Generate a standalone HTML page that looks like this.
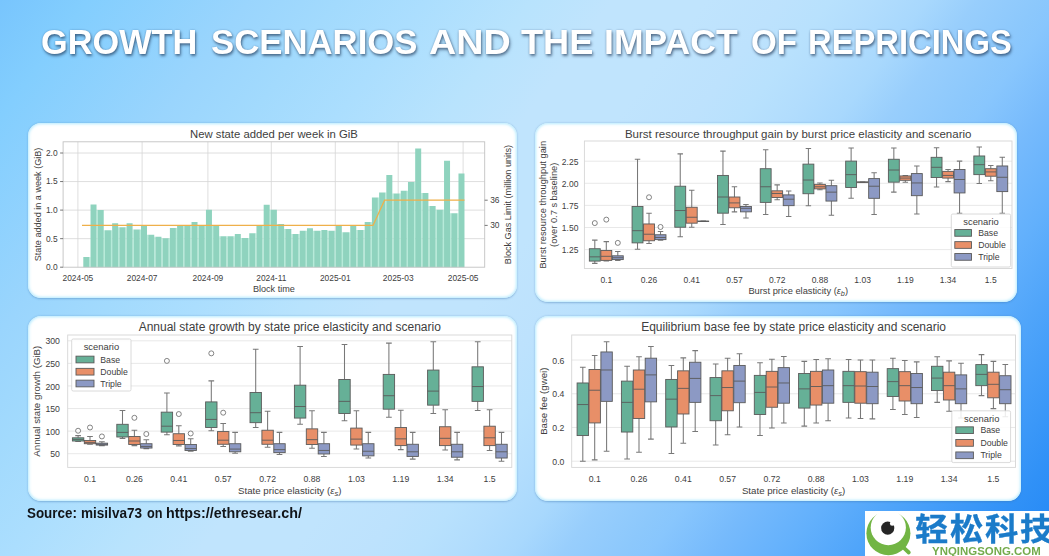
<!DOCTYPE html>
<html lang="en"><head><meta charset="utf-8">
<title>Growth scenarios and the impact of repricings</title>
<style>
html,body{margin:0;padding:0}
body{font-family:"Liberation Sans", sans-serif;background:#a8d6fd}
#stage{position:relative;width:1049px;height:556px;overflow:hidden;background:linear-gradient(126.87deg,rgb(120,197,253) 0px,rgb(131,206,254) 70px,rgb(154,213,253) 200px,rgb(162,218,253) 270px,rgb(171,222,254) 340px,rgb(184,227,253) 425px,rgb(192,228,253) 490px,rgb(192,228,253) 565px,rgb(189,226,253) 625px,rgb(184,225,253) 665px,rgb(178,221,253) 700px,rgb(168,216,253) 742px,rgb(152,206,252) 782px,rgb(140,200,252) 832px,rgb(136,198,253) 851px,rgb(118,186,252) 902px,rgb(98,176,252) 963px,rgb(80,165,250) 1014px,rgb(48,145,247) 1115px,rgb(35,135,245) 1173px)}
.panel{position:absolute;background:#fff;box-sizing:border-box;border-radius:13px;box-shadow:inset 0 0 2.5px 1.2px rgba(185,236,255,0.95), 0 0.8px 2px rgba(60,115,175,0.42)}
h1{position:absolute;margin:0;left:0;top:24px;width:1049px;height:35px;white-space:nowrap;font-size:35px;line-height:1;font-weight:bold;color:#fff;text-shadow:1px 2px 3px rgba(20,40,70,0.6), 0 0 2px rgba(30,60,100,0.3)}
h1 span{position:absolute;top:0;transform-origin:0 0;display:block}
.src{position:absolute;margin:0;left:0;top:506.0px;width:400px;height:14.5px;white-space:nowrap;font-size:14.5px;line-height:1;font-weight:bold;color:#111418}
.src span{position:absolute;top:0;transform-origin:0 0;display:block}
svg{position:absolute;left:0;top:0}
svg text{font-family:"Liberation Sans", sans-serif}
.logo{position:absolute;left:864.6px;top:510.7px;width:184.4px;height:45.3px;background:#fff}
.logo .cn{position:absolute;left:50.00px;top:3.10px;margin:0;white-space:nowrap;font-family:"Liberation Sans","Noto Sans CJK SC",sans-serif;font-weight:700;font-size:33px;line-height:1;color:#1b7bc9;-webkit-text-stroke:0.35px #1b7bc9;letter-spacing:1.65px;transform-origin:0 0;transform:scale(1.01,0.94)}
.logo .url{position:absolute;left:67.30px;top:35.00px;margin:0;white-space:nowrap;font-weight:bold;font-size:11px;line-height:1;color:#74ab4c;letter-spacing:0px;transform-origin:0 0;transform:scaleX(1.04)}
</style></head><body><div id="stage">
<h1><span style="left:41.22px;transform:scaleX(0.9805)">GROWTH</span> <span style="left:211.31px;transform:scaleX(0.9925)">SCENARIOS</span> <span style="left:428.60px;transform:scaleX(1.0771)">AND</span> <span style="left:520.70px;transform:scaleX(1.0341)">THE</span> <span style="left:604.27px;transform:scaleX(1.0156)">IMPACT</span> <span style="left:751.15px;transform:scaleX(0.9466)">OF</span> <span style="left:808.13px;transform:scaleX(0.9358)">REPRICINGS</span></h1>
<div class="panel" style="left:28px;top:123px;width:489px;height:175.2px"></div>
<div class="panel" style="left:535.2px;top:123px;width:482.3px;height:178.5px"></div>
<div class="panel" style="left:28px;top:316px;width:489px;height:185px"></div>
<div class="panel" style="left:535.2px;top:316px;width:486.1px;height:185px"></div>
<svg width="1049" height="556" viewBox="0 0 1049 556">
<g>
<path d="M63.1 238.65H484.7" stroke="#d6d6d6" stroke-width="0.8"/><path d="M63.1 210.1H484.7" stroke="#d6d6d6" stroke-width="0.8"/><path d="M63.1 181.55H484.7" stroke="#d6d6d6" stroke-width="0.8"/><path d="M63.1 153H484.7" stroke="#d6d6d6" stroke-width="0.8"/>
<path d="M77.9 141.8V267.2" stroke="#d6d6d6" stroke-width="0.8"/><path d="M142.1 141.8V267.2" stroke="#d6d6d6" stroke-width="0.8"/><path d="M207.9 141.8V267.2" stroke="#d6d6d6" stroke-width="0.8"/><path d="M271.3 141.8V267.2" stroke="#d6d6d6" stroke-width="0.8"/><path d="M335.3 141.8V267.2" stroke="#d6d6d6" stroke-width="0.8"/><path d="M398.2 141.8V267.2" stroke="#d6d6d6" stroke-width="0.8"/><path d="M463.1 141.8V267.2" stroke="#d6d6d6" stroke-width="0.8"/>
<path d="M89.3 267.2V256.92h1.21V267.2zM96.52 267.2V210.1h1.21V267.2zM103.73 267.2V230.37h1.21V267.2zM110.94 267.2V230.37h1.21V267.2zM118.16 267.2V227.23h1.21V267.2zM125.38 267.2V227.23h1.21V267.2zM132.59 267.2V229.51h1.21V267.2zM139.81 267.2V229.51h1.21V267.2zM147.02 267.2V234.65h1.21V267.2zM154.24 267.2V236.65h1.21V267.2zM161.45 267.2V238.36h1.21V267.2zM168.66 267.2V238.36h1.21V267.2zM175.88 267.2V228.09h1.21V267.2zM183.09 267.2V226.09h1.21V267.2zM190.31 267.2V226.09h1.21V267.2zM197.52 267.2V226.09h1.21V267.2zM204.74 267.2V226.09h1.21V267.2zM211.95 267.2V226.09h1.21V267.2zM219.17 267.2V236.37h1.21V267.2zM226.38 267.2V236.37h1.21V267.2zM233.6 267.2V236.37h1.21V267.2zM240.81 267.2V238.08h1.21V267.2zM248.03 267.2V238.08h1.21V267.2zM255.25 267.2V233.23h1.21V267.2zM262.46 267.2V226.09h1.21V267.2zM269.68 267.2V209.81h1.21V267.2zM276.89 267.2V224.09h1.21V267.2zM284.11 267.2V228.94h1.21V267.2zM291.32 267.2V234.08h1.21V267.2zM298.53 267.2V234.08h1.21V267.2zM305.75 267.2V230.66h1.21V267.2zM312.96 267.2V230.66h1.21V267.2zM320.18 267.2V230.66h1.21V267.2zM327.39 267.2V230.66h1.21V267.2zM334.61 267.2V230.66h1.21V267.2zM341.82 267.2V232.37h1.21V267.2zM349.04 267.2V232.37h1.21V267.2zM356.25 267.2V230.08h1.21V267.2zM363.47 267.2V230.08h1.21V267.2zM370.69 267.2V222.09h1.21V267.2zM377.9 267.2V197.54h1.21V267.2zM385.12 267.2V192.4h1.21V267.2zM392.33 267.2V193.54h1.21V267.2zM399.55 267.2V193.54h1.21V267.2zM406.76 267.2V190.69h1.21V267.2zM413.98 267.2V182.12h1.21V267.2zM421.19 267.2V192.97h1.21V267.2zM428.41 267.2V206.1h1.21V267.2zM435.62 267.2V209.81h1.21V267.2zM442.83 267.2V209.81h1.21V267.2zM450.05 267.2V213.24h1.21V267.2zM457.26 267.2V213.24h1.21V267.2z" fill="#b6ebd9"/>
<path d="M83.3 267.2V256.92h6V267.2zM90.52 267.2V204.39h6V267.2zM97.73 267.2V210.1h6V267.2zM104.94 267.2V230.37h6V267.2zM112.16 267.2V223.23h6V267.2zM119.38 267.2V227.23h6V267.2zM126.59 267.2V223.23h6V267.2zM133.81 267.2V229.51h6V267.2zM141.02 267.2V225.52h6V267.2zM148.24 267.2V234.65h6V267.2zM155.45 267.2V236.65h6V267.2zM162.66 267.2V238.36h6V267.2zM169.88 267.2V228.09h6V267.2zM177.09 267.2V226.09h6V267.2zM184.31 267.2V226.09h6V267.2zM191.52 267.2V222.09h6V267.2zM198.74 267.2V226.09h6V267.2zM205.95 267.2V209.81h6V267.2zM213.17 267.2V226.09h6V267.2zM220.38 267.2V236.37h6V267.2zM227.6 267.2V236.37h6V267.2zM234.81 267.2V234.08h6V267.2zM242.03 267.2V238.08h6V267.2zM249.25 267.2V233.23h6V267.2zM256.46 267.2V226.09h6V267.2zM263.68 267.2V204.68h6V267.2zM270.89 267.2V209.81h6V267.2zM278.11 267.2V224.09h6V267.2zM285.32 267.2V228.94h6V267.2zM292.53 267.2V234.08h6V267.2zM299.75 267.2V230.66h6V267.2zM306.96 267.2V228.37h6V267.2zM314.18 267.2V230.66h6V267.2zM321.39 267.2V230.08h6V267.2zM328.61 267.2V230.66h6V267.2zM335.82 267.2V225.52h6V267.2zM343.04 267.2V232.37h6V267.2zM350.25 267.2V225.52h6V267.2zM357.47 267.2V230.08h6V267.2zM364.69 267.2V222.09h6V267.2zM371.9 267.2V197.54h6V267.2zM379.12 267.2V192.4h6V267.2zM386.33 267.2V174.98h6V267.2zM393.55 267.2V193.54h6V267.2zM400.76 267.2V190.69h6V267.2zM407.98 267.2V182.12h6V267.2zM415.19 267.2V148.43h6V267.2zM422.41 267.2V192.97h6V267.2zM429.62 267.2V206.1h6V267.2zM436.83 267.2V209.81h6V267.2zM444.05 267.2V160.71h6V267.2zM451.26 267.2V213.24h6V267.2zM458.48 267.2V173.56h6V267.2z" fill="#8fd3be"/>
<path d="M82 225.4H373L384.6 200.2H464.5" fill="none" stroke="#efb04a" stroke-width="1.3"/>
<rect x="63.1" y="141.8" width="421.6" height="125.4" fill="none" stroke="#c2c2c2" stroke-width="0.9"/>
<path d="M60.1 267.2H63.1" stroke="#555" stroke-width="0.8"/>
<text x="57.6" y="270.14" font-size="8.4" text-anchor="end" fill="#404040" font-weight="normal">0.0</text>
<path d="M60.1 238.65H63.1" stroke="#555" stroke-width="0.8"/>
<text x="57.6" y="241.59" font-size="8.4" text-anchor="end" fill="#404040" font-weight="normal">0.5</text>
<path d="M60.1 210.1H63.1" stroke="#555" stroke-width="0.8"/>
<text x="57.6" y="213.04" font-size="8.4" text-anchor="end" fill="#404040" font-weight="normal">1.0</text>
<path d="M60.1 181.55H63.1" stroke="#555" stroke-width="0.8"/>
<text x="57.6" y="184.49" font-size="8.4" text-anchor="end" fill="#404040" font-weight="normal">1.5</text>
<path d="M60.1 153H63.1" stroke="#555" stroke-width="0.8"/>
<text x="57.6" y="155.94" font-size="8.4" text-anchor="end" fill="#404040" font-weight="normal">2.0</text>
<path d="M484.7 200.2H487.7" stroke="#555" stroke-width="0.8"/>
<text x="490.2" y="203.14" font-size="8.4" text-anchor="start" fill="#404040" font-weight="normal">36</text>
<path d="M484.7 225.4H487.7" stroke="#555" stroke-width="0.8"/>
<text x="490.2" y="228.34" font-size="8.4" text-anchor="start" fill="#404040" font-weight="normal">30</text>
<text x="77.9" y="280.74" font-size="8.4" text-anchor="middle" fill="#404040" font-weight="normal">2024-05</text>
<text x="142.1" y="280.74" font-size="8.4" text-anchor="middle" fill="#404040" font-weight="normal">2024-07</text>
<text x="207.9" y="280.74" font-size="8.4" text-anchor="middle" fill="#404040" font-weight="normal">2024-09</text>
<text x="271.3" y="280.74" font-size="8.4" text-anchor="middle" fill="#404040" font-weight="normal">2024-11</text>
<text x="335.3" y="280.74" font-size="8.4" text-anchor="middle" fill="#404040" font-weight="normal">2025-01</text>
<text x="398.2" y="280.74" font-size="8.4" text-anchor="middle" fill="#404040" font-weight="normal">2025-03</text>
<text x="463.1" y="280.74" font-size="8.4" text-anchor="middle" fill="#404040" font-weight="normal">2025-05</text>
<text x="273.9" y="291.79" font-size="9.1" text-anchor="middle" fill="#404040" font-weight="normal">Block time</text>
<text x="41.19" y="204.5" font-size="9.1" text-anchor="middle" fill="#404040" font-weight="normal" transform="rotate(-90 41.19 204.5)">State added in a week (GiB)</text>
<text x="511.19" y="204.5" font-size="9.1" text-anchor="middle" fill="#404040" font-weight="normal" transform="rotate(-90 511.19 204.5)">Block Gas Limit (million units)</text>
<text x="273.9" y="137.56" font-size="11.3" text-anchor="middle" fill="#404040" font-weight="normal">New state added per week in GiB</text>
</g>
<g>
<path d="M584.4 249.6H1012" stroke="#e2e2e2" stroke-width="0.8"/><path d="M584.4 227.5H1012" stroke="#e2e2e2" stroke-width="0.8"/><path d="M584.4 205.4H1012" stroke="#e2e2e2" stroke-width="0.8"/><path d="M584.4 183.3H1012" stroke="#e2e2e2" stroke-width="0.8"/><path d="M584.4 161.2H1012" stroke="#e2e2e2" stroke-width="0.8"/>
<path d="M594.8 240.14V248.72M594.8 261.09V263.39M592.07 240.14H597.52M592.07 263.39H597.52" stroke="#787878" stroke-width="1.05" fill="none"/><rect x="589.35" y="248.72" width="10.9" height="12.38" fill="#66b097" stroke="#5a5a5a" stroke-width="0.9"/><path d="M589.35 256.85H600.25" stroke="#5a5a5a" stroke-width="0.9"/><circle cx="594.8" cy="223.08" r="2.5" fill="#fff" fill-opacity="0.6" stroke="#666" stroke-width="0.8"/>
<path d="M606.3 241.64V250.48M606.3 260.38V261.09M603.57 241.64H609.02M603.57 261.09H609.02" stroke="#787878" stroke-width="1.05" fill="none"/><rect x="600.85" y="250.48" width="10.9" height="9.9" fill="#e88f68" stroke="#5a5a5a" stroke-width="0.9"/><path d="M600.85 256.32H611.75" stroke="#5a5a5a" stroke-width="0.9"/><circle cx="606.3" cy="219.63" r="2.5" fill="#fff" fill-opacity="0.6" stroke="#666" stroke-width="0.8"/>
<path d="M617.8 251.46V255.79M617.8 259.59V260.38M615.07 251.46H620.52M615.07 260.38H620.52" stroke="#787878" stroke-width="1.05" fill="none"/><rect x="612.35" y="255.79" width="10.9" height="3.8" fill="#8c99c4" stroke="#5a5a5a" stroke-width="0.9"/><path d="M612.35 257.73H623.25" stroke="#5a5a5a" stroke-width="0.9"/><circle cx="617.8" cy="242.88" r="2.5" fill="#fff" fill-opacity="0.6" stroke="#666" stroke-width="0.8"/>
<path d="M637.52 159.26V206.46M637.52 242.88V249.33M634.79 159.26H640.25M634.79 249.33H640.25" stroke="#787878" stroke-width="1.05" fill="none"/><rect x="632.07" y="206.46" width="10.9" height="36.42" fill="#66b097" stroke="#5a5a5a" stroke-width="0.9"/><path d="M632.07 230.68H642.97" stroke="#5a5a5a" stroke-width="0.9"/>
<path d="M649.02 213.18V223.96M649.02 240.76V243.41M646.29 213.18H651.75M646.29 243.41H651.75" stroke="#787878" stroke-width="1.05" fill="none"/><rect x="643.57" y="223.96" width="10.9" height="16.8" fill="#e88f68" stroke="#5a5a5a" stroke-width="0.9"/><path d="M643.57 234.22H654.47" stroke="#5a5a5a" stroke-width="0.9"/><circle cx="649.02" cy="197.27" r="2.5" fill="#fff" fill-opacity="0.6" stroke="#666" stroke-width="0.8"/>
<path d="M660.52 231.57V234.75M660.52 239.61V240.14M657.79 231.57H663.25M657.79 240.14H663.25" stroke="#787878" stroke-width="1.05" fill="none"/><rect x="655.07" y="234.75" width="10.9" height="4.86" fill="#8c99c4" stroke="#5a5a5a" stroke-width="0.9"/><path d="M655.07 237.49H665.97" stroke="#5a5a5a" stroke-width="0.9"/><circle cx="660.52" cy="226.97" r="2.5" fill="#fff" fill-opacity="0.6" stroke="#666" stroke-width="0.8"/>
<path d="M680.24 153.86V186.22M680.24 227.23V236.69M677.51 153.86H682.97M677.51 236.69H682.97" stroke="#787878" stroke-width="1.05" fill="none"/><rect x="674.79" y="186.22" width="10.9" height="41.02" fill="#66b097" stroke="#5a5a5a" stroke-width="0.9"/><path d="M674.79 210.53H685.69" stroke="#5a5a5a" stroke-width="0.9"/>
<path d="M691.74 190.28V207.26M691.74 223.17V227.23M689.01 190.28H694.47M689.01 227.23H694.47" stroke="#787878" stroke-width="1.05" fill="none"/><rect x="686.29" y="207.26" width="10.9" height="15.91" fill="#e88f68" stroke="#5a5a5a" stroke-width="0.9"/><path d="M686.29 217.25H697.19" stroke="#5a5a5a" stroke-width="0.9"/>
<path d="M703.24 221.14V221.14M703.24 221.49V221.49M700.51 221.14H705.97M700.51 221.49H705.97" stroke="#787878" stroke-width="1.05" fill="none"/><rect x="697.79" y="221.14" width="10.9" height="0.35" fill="#8c99c4" stroke="#5a5a5a" stroke-width="0.9"/><path d="M697.79 221.31H708.69" stroke="#5a5a5a" stroke-width="0.9"/>
<path d="M722.96 151.12V175.43M722.96 213.18V224.49M720.23 151.12H725.68M720.23 224.49H725.68" stroke="#787878" stroke-width="1.05" fill="none"/><rect x="717.51" y="175.43" width="10.9" height="37.75" fill="#66b097" stroke="#5a5a5a" stroke-width="0.9"/><path d="M717.51 197H728.41" stroke="#5a5a5a" stroke-width="0.9"/>
<path d="M734.46 186.75V197M734.46 207.79V211.85M731.73 186.75H737.18M731.73 211.85H737.18" stroke="#787878" stroke-width="1.05" fill="none"/><rect x="729.01" y="197" width="10.9" height="10.78" fill="#e88f68" stroke="#5a5a5a" stroke-width="0.9"/><path d="M729.01 202.92H739.91" stroke="#5a5a5a" stroke-width="0.9"/>
<path d="M745.96 204.52V206.46M745.96 211.85V218.04M743.23 204.52H748.68M743.23 218.04H748.68" stroke="#787878" stroke-width="1.05" fill="none"/><rect x="740.51" y="206.46" width="10.9" height="5.39" fill="#8c99c4" stroke="#5a5a5a" stroke-width="0.9"/><path d="M740.51 208.32H751.41" stroke="#5a5a5a" stroke-width="0.9"/>
<path d="M765.68 149.8V168.71M765.68 202.39V214.51M762.95 149.8H768.4M762.95 214.51H768.4" stroke="#787878" stroke-width="1.05" fill="none"/><rect x="760.23" y="168.71" width="10.9" height="33.68" fill="#66b097" stroke="#5a5a5a" stroke-width="0.9"/><path d="M760.23 186.75H771.13" stroke="#5a5a5a" stroke-width="0.9"/>
<path d="M777.18 184.89V190.81M777.18 197.53V199.65M774.45 184.89H779.9M774.45 199.65H779.9" stroke="#787878" stroke-width="1.05" fill="none"/><rect x="771.73" y="190.81" width="10.9" height="6.72" fill="#e88f68" stroke="#5a5a5a" stroke-width="0.9"/><path d="M771.73 193.47H782.63" stroke="#5a5a5a" stroke-width="0.9"/>
<path d="M788.68 191.08V194.88M788.68 205.67V216.45M785.95 191.08H791.4M785.95 216.45H791.4" stroke="#787878" stroke-width="1.05" fill="none"/><rect x="783.23" y="194.88" width="10.9" height="10.78" fill="#8c99c4" stroke="#5a5a5a" stroke-width="0.9"/><path d="M783.23 199.21H794.13" stroke="#5a5a5a" stroke-width="0.9"/>
<path d="M808.4 148.47V164.12M808.4 193.73V205.67M805.67 148.47H811.12M805.67 205.67H811.12" stroke="#787878" stroke-width="1.05" fill="none"/><rect x="802.95" y="164.12" width="10.9" height="29.61" fill="#66b097" stroke="#5a5a5a" stroke-width="0.9"/><path d="M802.95 180.03H813.85" stroke="#5a5a5a" stroke-width="0.9"/>
<path d="M819.9 182.95V184.36M819.9 188.87V189.75M817.17 182.95H822.62M817.17 189.75H822.62" stroke="#787878" stroke-width="1.05" fill="none"/><rect x="814.45" y="184.36" width="10.9" height="4.51" fill="#e88f68" stroke="#5a5a5a" stroke-width="0.9"/><path d="M814.45 186.75H825.35" stroke="#5a5a5a" stroke-width="0.9"/>
<path d="M831.4 180.29V185.69M831.4 201.07V215.3M828.67 180.29H834.12M828.67 215.3H834.12" stroke="#787878" stroke-width="1.05" fill="none"/><rect x="825.95" y="185.69" width="10.9" height="15.38" fill="#8c99c4" stroke="#5a5a5a" stroke-width="0.9"/><path d="M825.95 192.14H836.85" stroke="#5a5a5a" stroke-width="0.9"/>
<path d="M851.12 147.94V161.11M851.12 187.54V198.33M848.39 147.94H853.84M848.39 198.33H853.84" stroke="#787878" stroke-width="1.05" fill="none"/><rect x="845.67" y="161.11" width="10.9" height="26.43" fill="#66b097" stroke="#5a5a5a" stroke-width="0.9"/><path d="M845.67 174.64H856.57" stroke="#5a5a5a" stroke-width="0.9"/>
<path d="M862.62 181.97V181.97M862.62 182.33V182.33M859.89 181.97H865.34M859.89 182.33H865.34" stroke="#787878" stroke-width="1.05" fill="none"/><rect x="857.17" y="181.97" width="10.9" height="0.35" fill="#e88f68" stroke="#5a5a5a" stroke-width="0.9"/><path d="M857.17 182.15H868.07" stroke="#5a5a5a" stroke-width="0.9"/>
<path d="M874.12 172.69V178.61M874.12 198.33V214.51M871.39 172.69H876.84M871.39 214.51H876.84" stroke="#787878" stroke-width="1.05" fill="none"/><rect x="868.67" y="178.61" width="10.9" height="19.71" fill="#8c99c4" stroke="#5a5a5a" stroke-width="0.9"/><path d="M868.67 186.22H879.57" stroke="#5a5a5a" stroke-width="0.9"/>
<path d="M893.84 147.94V159.26M893.84 182.15V192.14M891.11 147.94H896.56M891.11 192.14H896.56" stroke="#787878" stroke-width="1.05" fill="none"/><rect x="888.39" y="159.26" width="10.9" height="22.9" fill="#66b097" stroke="#5a5a5a" stroke-width="0.9"/><path d="M888.39 170.04H899.29" stroke="#5a5a5a" stroke-width="0.9"/>
<path d="M905.34 175.43V175.96M905.34 180.29V182.15M902.61 175.43H908.06M902.61 182.15H908.06" stroke="#787878" stroke-width="1.05" fill="none"/><rect x="899.89" y="175.96" width="10.9" height="4.33" fill="#e88f68" stroke="#5a5a5a" stroke-width="0.9"/><path d="M899.89 178.08H910.79" stroke="#5a5a5a" stroke-width="0.9"/>
<path d="M916.84 165.97V173.58M916.84 195.68V213.97M914.11 165.97H919.56M914.11 213.97H919.56" stroke="#787878" stroke-width="1.05" fill="none"/><rect x="911.39" y="173.58" width="10.9" height="22.1" fill="#8c99c4" stroke="#5a5a5a" stroke-width="0.9"/><path d="M911.39 182.95H922.29" stroke="#5a5a5a" stroke-width="0.9"/>
<path d="M936.56 147.67V157.31M936.56 177.55V187.01M933.83 147.67H939.28M933.83 187.01H939.28" stroke="#787878" stroke-width="1.05" fill="none"/><rect x="931.11" y="157.31" width="10.9" height="20.24" fill="#66b097" stroke="#5a5a5a" stroke-width="0.9"/><path d="M931.11 167.3H942.01" stroke="#5a5a5a" stroke-width="0.9"/>
<path d="M948.06 169.51V171.37M948.06 178.08V181.62M945.33 169.51H950.78M945.33 181.62H950.78" stroke="#787878" stroke-width="1.05" fill="none"/><rect x="942.61" y="171.37" width="10.9" height="6.72" fill="#e88f68" stroke="#5a5a5a" stroke-width="0.9"/><path d="M942.61 175.43H953.51" stroke="#5a5a5a" stroke-width="0.9"/>
<path d="M959.56 161.11V169.51M959.56 192.94V213.18M956.83 161.11H962.28M956.83 213.18H962.28" stroke="#787878" stroke-width="1.05" fill="none"/><rect x="954.11" y="169.51" width="10.9" height="23.43" fill="#8c99c4" stroke="#5a5a5a" stroke-width="0.9"/><path d="M954.11 179.5H965.01" stroke="#5a5a5a" stroke-width="0.9"/>
<path d="M979.28 147.06V155.98M979.28 174.64V183.48M976.55 147.06H982M976.55 183.48H982" stroke="#787878" stroke-width="1.05" fill="none"/><rect x="973.83" y="155.98" width="10.9" height="18.65" fill="#66b097" stroke="#5a5a5a" stroke-width="0.9"/><path d="M973.83 164.65H984.73" stroke="#5a5a5a" stroke-width="0.9"/>
<path d="M990.78 165.44V168.71M990.78 176.23V180.82M988.05 165.44H993.5M988.05 180.82H993.5" stroke="#787878" stroke-width="1.05" fill="none"/><rect x="985.33" y="168.71" width="10.9" height="7.51" fill="#e88f68" stroke="#5a5a5a" stroke-width="0.9"/><path d="M985.33 171.9H996.23" stroke="#5a5a5a" stroke-width="0.9"/>
<path d="M1002.28 157.31V165.97M1002.28 191.61V213.18M999.55 157.31H1005M999.55 213.18H1005" stroke="#787878" stroke-width="1.05" fill="none"/><rect x="996.83" y="165.97" width="10.9" height="25.64" fill="#8c99c4" stroke="#5a5a5a" stroke-width="0.9"/><path d="M996.83 177.29H1007.73" stroke="#5a5a5a" stroke-width="0.9"/>
<rect x="584.4" y="141" width="427.6" height="127.5" fill="none" stroke="#d6d6d6" stroke-width="0.9"/>
<text x="578.4" y="253.07" font-size="8.5" text-anchor="end" fill="#404040" font-weight="normal">1.25</text>
<text x="578.4" y="230.97" font-size="8.5" text-anchor="end" fill="#404040" font-weight="normal">1.50</text>
<text x="578.4" y="208.87" font-size="8.5" text-anchor="end" fill="#404040" font-weight="normal">1.75</text>
<text x="578.4" y="186.77" font-size="8.5" text-anchor="end" fill="#404040" font-weight="normal">2.00</text>
<text x="578.4" y="164.67" font-size="8.5" text-anchor="end" fill="#404040" font-weight="normal">2.25</text>
<text x="606.3" y="282.68" font-size="8.5" text-anchor="middle" fill="#404040" font-weight="normal">0.1</text>
<text x="649.02" y="282.68" font-size="8.5" text-anchor="middle" fill="#404040" font-weight="normal">0.26</text>
<text x="691.74" y="282.68" font-size="8.5" text-anchor="middle" fill="#404040" font-weight="normal">0.41</text>
<text x="734.46" y="282.68" font-size="8.5" text-anchor="middle" fill="#404040" font-weight="normal">0.57</text>
<text x="777.18" y="282.68" font-size="8.5" text-anchor="middle" fill="#404040" font-weight="normal">0.72</text>
<text x="819.9" y="282.68" font-size="8.5" text-anchor="middle" fill="#404040" font-weight="normal">0.88</text>
<text x="862.62" y="282.68" font-size="8.5" text-anchor="middle" fill="#404040" font-weight="normal">1.03</text>
<text x="905.34" y="282.68" font-size="8.5" text-anchor="middle" fill="#404040" font-weight="normal">1.19</text>
<text x="948.06" y="282.68" font-size="8.5" text-anchor="middle" fill="#404040" font-weight="normal">1.34</text>
<text x="990.78" y="282.68" font-size="8.5" text-anchor="middle" fill="#404040" font-weight="normal">1.5</text>
<text x="798.2" y="294.25" font-size="9.3" text-anchor="middle" fill="#404040">Burst price elasticity (<tspan font-style="italic">&#949;</tspan><tspan font-size="7.25" dy="2.05" font-style="italic">b</tspan><tspan dy="-2.05">)</tspan></text>
<text x="546.46" y="204.75" font-size="9.3" text-anchor="middle" fill="#404040" font-weight="normal" transform="rotate(-90 546.46 204.75)">Burst resource throughput gain</text>
<text x="557.05" y="204.75" font-size="9.3" text-anchor="middle" fill="#404040" font-weight="normal" transform="rotate(-90 557.05 204.75)">(over 0.7 s baseline)</text>
<text x="798.2" y="137.72" font-size="11.5" text-anchor="middle" fill="#404040" font-weight="normal">Burst resource throughput gain by burst price elasticity and scenario</text>
<rect x="951.3" y="214" width="59.3" height="53" rx="1.5" fill="#fff" fill-opacity="0.85" stroke="#d0d0d0" stroke-width="0.8"/><text x="981" y="225.19" font-size="9.4" text-anchor="middle" fill="#404040" font-weight="normal">scenario</text><rect x="954.8" y="229.55" width="16.7" height="6.7" fill="#66b097" stroke="#5a5a5a" stroke-width="0.9"/><text x="978.2" y="235.94" font-size="8.7" text-anchor="start" fill="#404040" font-weight="normal">Base</text><rect x="954.8" y="241.65" width="16.7" height="6.7" fill="#e88f68" stroke="#5a5a5a" stroke-width="0.9"/><text x="978.2" y="248.04" font-size="8.7" text-anchor="start" fill="#404040" font-weight="normal">Double</text><rect x="954.8" y="253.55" width="16.7" height="6.7" fill="#8c99c4" stroke="#5a5a5a" stroke-width="0.9"/><text x="978.2" y="259.94" font-size="8.7" text-anchor="start" fill="#404040" font-weight="normal">Triple</text>
</g>
<g>
<path d="M67.7 453.7H511.8" stroke="#e2e2e2" stroke-width="0.8"/><path d="M67.7 431.12H511.8" stroke="#e2e2e2" stroke-width="0.8"/><path d="M67.7 408.54H511.8" stroke="#e2e2e2" stroke-width="0.8"/><path d="M67.7 385.96H511.8" stroke="#e2e2e2" stroke-width="0.8"/><path d="M67.7 363.38H511.8" stroke="#e2e2e2" stroke-width="0.8"/><path d="M67.7 340.8H511.8" stroke="#e2e2e2" stroke-width="0.8"/>
<path d="M78.1 435.64V437.8M78.1 441.01V441.55M75.25 435.64H80.95M75.25 441.55H80.95" stroke="#787878" stroke-width="1.05" fill="none"/><rect x="72.4" y="437.8" width="11.4" height="3.21" fill="#66b097" stroke="#5a5a5a" stroke-width="0.9"/><path d="M72.4 439.38H83.8" stroke="#5a5a5a" stroke-width="0.9"/><circle cx="78.1" cy="430.76" r="2.5" fill="#fff" fill-opacity="0.6" stroke="#666" stroke-width="0.8"/>
<path d="M90 436.45V440.47M90 443.72V444.26M87.15 436.45H92.85M87.15 444.26H92.85" stroke="#787878" stroke-width="1.05" fill="none"/><rect x="84.3" y="440.47" width="11.4" height="3.25" fill="#e88f68" stroke="#5a5a5a" stroke-width="0.9"/><path d="M84.3 442.36H95.7" stroke="#5a5a5a" stroke-width="0.9"/><circle cx="90" cy="427.51" r="2.5" fill="#fff" fill-opacity="0.6" stroke="#666" stroke-width="0.8"/>
<path d="M101.9 441.82V443.18M101.9 445.07V445.62M99.05 441.82H104.75M99.05 445.62H104.75" stroke="#787878" stroke-width="1.05" fill="none"/><rect x="96.2" y="443.18" width="11.4" height="1.9" fill="#8c99c4" stroke="#5a5a5a" stroke-width="0.9"/><path d="M96.2 444.26H107.6" stroke="#5a5a5a" stroke-width="0.9"/><circle cx="101.9" cy="436.45" r="2.5" fill="#fff" fill-opacity="0.6" stroke="#666" stroke-width="0.8"/>
<path d="M122.5 410.53V424.3M122.5 436.99V438.35M119.65 410.53H125.35M119.65 438.35H125.35" stroke="#787878" stroke-width="1.05" fill="none"/><rect x="116.8" y="424.3" width="11.4" height="12.69" fill="#66b097" stroke="#5a5a5a" stroke-width="0.9"/><path d="M116.8 432.38H128.2" stroke="#5a5a5a" stroke-width="0.9"/>
<path d="M134.4 430.22V436.45M134.4 444.53V445.62M131.55 430.22H137.25M131.55 445.62H137.25" stroke="#787878" stroke-width="1.05" fill="none"/><rect x="128.7" y="436.45" width="11.4" height="8.08" fill="#e88f68" stroke="#5a5a5a" stroke-width="0.9"/><path d="M128.7 441.01H140.1" stroke="#5a5a5a" stroke-width="0.9"/><circle cx="134.4" cy="417.8" r="2.5" fill="#fff" fill-opacity="0.6" stroke="#666" stroke-width="0.8"/>
<path d="M146.3 439.66V443.72M146.3 448.06V448.6M143.45 439.66H149.15M143.45 448.6H149.15" stroke="#787878" stroke-width="1.05" fill="none"/><rect x="140.6" y="443.72" width="11.4" height="4.34" fill="#8c99c4" stroke="#5a5a5a" stroke-width="0.9"/><path d="M140.6 446.43H152" stroke="#5a5a5a" stroke-width="0.9"/><circle cx="146.3" cy="434.01" r="2.5" fill="#fff" fill-opacity="0.6" stroke="#666" stroke-width="0.8"/>
<path d="M166.9 393V412.15M166.9 432.11V434.82M164.05 393H169.75M164.05 434.82H169.75" stroke="#787878" stroke-width="1.05" fill="none"/><rect x="161.2" y="412.15" width="11.4" height="19.96" fill="#66b097" stroke="#5a5a5a" stroke-width="0.9"/><path d="M161.2 426.2H172.6" stroke="#5a5a5a" stroke-width="0.9"/><circle cx="166.9" cy="360.9" r="2.5" fill="#fff" fill-opacity="0.6" stroke="#666" stroke-width="0.8"/>
<path d="M178.8 425.66V433.74M178.8 444.53V445.89M175.95 425.66H181.65M175.95 445.89H181.65" stroke="#787878" stroke-width="1.05" fill="none"/><rect x="173.1" y="433.74" width="11.4" height="10.79" fill="#e88f68" stroke="#5a5a5a" stroke-width="0.9"/><path d="M173.1 440.47H184.5" stroke="#5a5a5a" stroke-width="0.9"/><circle cx="178.8" cy="414.05" r="2.5" fill="#fff" fill-opacity="0.6" stroke="#666" stroke-width="0.8"/>
<path d="M190.7 438.84V444.53M190.7 450.45V451.22M187.85 438.84H193.55M187.85 451.22H193.55" stroke="#787878" stroke-width="1.05" fill="none"/><rect x="185" y="444.53" width="11.4" height="5.92" fill="#8c99c4" stroke="#5a5a5a" stroke-width="0.9"/><path d="M185 448.6H196.4" stroke="#5a5a5a" stroke-width="0.9"/><circle cx="190.7" cy="433.47" r="2.5" fill="#fff" fill-opacity="0.6" stroke="#666" stroke-width="0.8"/>
<path d="M211.3 380.86V401.9M211.3 427.55V430.76M208.45 380.86H214.15M208.45 430.76H214.15" stroke="#787878" stroke-width="1.05" fill="none"/><rect x="205.6" y="401.9" width="11.4" height="25.65" fill="#66b097" stroke="#5a5a5a" stroke-width="0.9"/><path d="M205.6 419.42H217" stroke="#5a5a5a" stroke-width="0.9"/><circle cx="211.3" cy="353.35" r="2.5" fill="#fff" fill-opacity="0.6" stroke="#666" stroke-width="0.8"/>
<path d="M223.2 423.49V431.57M223.2 444.26V446.43M220.35 423.49H226.05M220.35 446.43H226.05" stroke="#787878" stroke-width="1.05" fill="none"/><rect x="217.5" y="431.57" width="11.4" height="12.69" fill="#e88f68" stroke="#5a5a5a" stroke-width="0.9"/><path d="M217.5 440.2H228.9" stroke="#5a5a5a" stroke-width="0.9"/><circle cx="223.2" cy="412.69" r="2.5" fill="#fff" fill-opacity="0.6" stroke="#666" stroke-width="0.8"/>
<path d="M235.1 432.38V443.72M235.1 451.8V453.16M232.25 432.38H237.95M232.25 453.16H237.95" stroke="#787878" stroke-width="1.05" fill="none"/><rect x="229.4" y="443.72" width="11.4" height="8.08" fill="#8c99c4" stroke="#5a5a5a" stroke-width="0.9"/><path d="M229.4 449.09H240.8" stroke="#5a5a5a" stroke-width="0.9"/>
<path d="M255.7 349.29V392.46M255.7 422.68V427.55M252.85 349.29H258.55M252.85 427.55H258.55" stroke="#787878" stroke-width="1.05" fill="none"/><rect x="250" y="392.46" width="11.4" height="30.21" fill="#66b097" stroke="#5a5a5a" stroke-width="0.9"/><path d="M250 412.69H261.4" stroke="#5a5a5a" stroke-width="0.9"/>
<path d="M267.6 411.34V430.22M267.6 444.26V447.24M264.75 411.34H270.45M264.75 447.24H270.45" stroke="#787878" stroke-width="1.05" fill="none"/><rect x="261.9" y="430.22" width="11.4" height="14.04" fill="#e88f68" stroke="#5a5a5a" stroke-width="0.9"/><path d="M261.9 440.2H273.3" stroke="#5a5a5a" stroke-width="0.9"/>
<path d="M279.5 432.38V443.72M279.5 452.62V454.51M276.65 432.38H282.35M276.65 454.51H282.35" stroke="#787878" stroke-width="1.05" fill="none"/><rect x="273.8" y="443.72" width="11.4" height="8.9" fill="#8c99c4" stroke="#5a5a5a" stroke-width="0.9"/><path d="M273.8 449.64H285.2" stroke="#5a5a5a" stroke-width="0.9"/>
<path d="M300.1 346.58V385.19M300.1 418.07V424.3M297.25 346.58H302.95M297.25 424.3H302.95" stroke="#787878" stroke-width="1.05" fill="none"/><rect x="294.4" y="385.19" width="11.4" height="32.88" fill="#66b097" stroke="#5a5a5a" stroke-width="0.9"/><path d="M294.4 406.51H305.8" stroke="#5a5a5a" stroke-width="0.9"/>
<path d="M312 410.8V428.86M312 444.53V448.33M309.15 410.8H314.85M309.15 448.33H314.85" stroke="#787878" stroke-width="1.05" fill="none"/><rect x="306.3" y="428.86" width="11.4" height="15.67" fill="#e88f68" stroke="#5a5a5a" stroke-width="0.9"/><path d="M306.3 439.66H317.7" stroke="#5a5a5a" stroke-width="0.9"/>
<path d="M323.9 432.38V443.72M323.9 453.97V456.41M321.05 432.38H326.75M321.05 456.41H326.75" stroke="#787878" stroke-width="1.05" fill="none"/><rect x="318.2" y="443.72" width="11.4" height="10.25" fill="#8c99c4" stroke="#5a5a5a" stroke-width="0.9"/><path d="M318.2 450.45H329.6" stroke="#5a5a5a" stroke-width="0.9"/>
<path d="M344.5 344.46V379.5M344.5 413.51V420.78M341.65 344.46H347.35M341.65 420.78H347.35" stroke="#787878" stroke-width="1.05" fill="none"/><rect x="338.8" y="379.5" width="11.4" height="34.01" fill="#66b097" stroke="#5a5a5a" stroke-width="0.9"/><path d="M338.8 401.36H350.2" stroke="#5a5a5a" stroke-width="0.9"/>
<path d="M356.4 410.8V428.09M356.4 445.07V449.09M353.55 410.8H359.25M353.55 449.09H359.25" stroke="#787878" stroke-width="1.05" fill="none"/><rect x="350.7" y="428.09" width="11.4" height="16.98" fill="#e88f68" stroke="#5a5a5a" stroke-width="0.9"/><path d="M350.7 439.11H362.1" stroke="#5a5a5a" stroke-width="0.9"/>
<path d="M368.3 432.38V443.72M368.3 455.87V458.04M365.45 432.38H371.15M365.45 458.04H371.15" stroke="#787878" stroke-width="1.05" fill="none"/><rect x="362.6" y="443.72" width="11.4" height="12.15" fill="#8c99c4" stroke="#5a5a5a" stroke-width="0.9"/><path d="M362.6 451.26H374" stroke="#5a5a5a" stroke-width="0.9"/>
<path d="M388.9 343.1V374.4M388.9 409.17V417.3M386.05 343.1H391.75M386.05 417.3H391.75" stroke="#787878" stroke-width="1.05" fill="none"/><rect x="383.2" y="374.4" width="11.4" height="34.77" fill="#66b097" stroke="#5a5a5a" stroke-width="0.9"/><path d="M383.2 395.71H394.6" stroke="#5a5a5a" stroke-width="0.9"/>
<path d="M400.8 410.26V427.55M400.8 445.62V449.64M397.95 410.26H403.65M397.95 449.64H403.65" stroke="#787878" stroke-width="1.05" fill="none"/><rect x="395.1" y="427.55" width="11.4" height="18.06" fill="#e88f68" stroke="#5a5a5a" stroke-width="0.9"/><path d="M395.1 438.84H406.5" stroke="#5a5a5a" stroke-width="0.9"/>
<path d="M412.7 432.38V444.26M412.7 456.41V459.12M409.85 432.38H415.55M409.85 459.12H415.55" stroke="#787878" stroke-width="1.05" fill="none"/><rect x="407" y="444.26" width="11.4" height="12.15" fill="#8c99c4" stroke="#5a5a5a" stroke-width="0.9"/><path d="M407 451.8H418.4" stroke="#5a5a5a" stroke-width="0.9"/>
<path d="M433.3 341.75V370.06M433.3 405.15V413.51M430.45 341.75H436.15M430.45 413.51H436.15" stroke="#787878" stroke-width="1.05" fill="none"/><rect x="427.6" y="370.06" width="11.4" height="35.09" fill="#66b097" stroke="#5a5a5a" stroke-width="0.9"/><path d="M427.6 391.11H439" stroke="#5a5a5a" stroke-width="0.9"/>
<path d="M445.2 409.71V426.74M445.2 445.62V449.91M442.35 409.71H448.05M442.35 449.91H448.05" stroke="#787878" stroke-width="1.05" fill="none"/><rect x="439.5" y="426.74" width="11.4" height="18.88" fill="#e88f68" stroke="#5a5a5a" stroke-width="0.9"/><path d="M439.5 438.3H450.9" stroke="#5a5a5a" stroke-width="0.9"/>
<path d="M457.1 432.38V444.26M457.1 457.22V459.89M454.25 432.38H459.95M454.25 459.89H459.95" stroke="#787878" stroke-width="1.05" fill="none"/><rect x="451.4" y="444.26" width="11.4" height="12.96" fill="#8c99c4" stroke="#5a5a5a" stroke-width="0.9"/><path d="M451.4 451.8H462.8" stroke="#5a5a5a" stroke-width="0.9"/>
<path d="M477.7 341.75V366.81M477.7 401.36V410.53M474.85 341.75H480.55M474.85 410.53H480.55" stroke="#787878" stroke-width="1.05" fill="none"/><rect x="472" y="366.81" width="11.4" height="34.55" fill="#66b097" stroke="#5a5a5a" stroke-width="0.9"/><path d="M472 386.55H483.4" stroke="#5a5a5a" stroke-width="0.9"/>
<path d="M489.6 409.71V426.2M489.6 445.62V450.45M486.75 409.71H492.45M486.75 450.45H492.45" stroke="#787878" stroke-width="1.05" fill="none"/><rect x="483.9" y="426.2" width="11.4" height="19.42" fill="#e88f68" stroke="#5a5a5a" stroke-width="0.9"/><path d="M483.9 437.8H495.3" stroke="#5a5a5a" stroke-width="0.9"/>
<path d="M501.5 432.38V444.26M501.5 458.04V461.24M498.65 432.38H504.35M498.65 461.24H504.35" stroke="#787878" stroke-width="1.05" fill="none"/><rect x="495.8" y="444.26" width="11.4" height="13.77" fill="#8c99c4" stroke="#5a5a5a" stroke-width="0.9"/><path d="M495.8 451.8H507.2" stroke="#5a5a5a" stroke-width="0.9"/>
<rect x="67.7" y="335" width="444.1" height="132.4" fill="none" stroke="#d6d6d6" stroke-width="0.9"/>
<text x="59.9" y="457.25" font-size="8.7" text-anchor="end" fill="#404040" font-weight="normal">50</text>
<text x="59.9" y="434.67" font-size="8.7" text-anchor="end" fill="#404040" font-weight="normal">100</text>
<text x="59.9" y="412.08" font-size="8.7" text-anchor="end" fill="#404040" font-weight="normal">150</text>
<text x="59.9" y="389.5" font-size="8.7" text-anchor="end" fill="#404040" font-weight="normal">200</text>
<text x="59.9" y="366.93" font-size="8.7" text-anchor="end" fill="#404040" font-weight="normal">250</text>
<text x="59.9" y="344.34" font-size="8.7" text-anchor="end" fill="#404040" font-weight="normal">300</text>
<text x="90" y="481.75" font-size="8.7" text-anchor="middle" fill="#404040" font-weight="normal">0.1</text>
<text x="134.4" y="481.75" font-size="8.7" text-anchor="middle" fill="#404040" font-weight="normal">0.26</text>
<text x="178.8" y="481.75" font-size="8.7" text-anchor="middle" fill="#404040" font-weight="normal">0.41</text>
<text x="223.2" y="481.75" font-size="8.7" text-anchor="middle" fill="#404040" font-weight="normal">0.57</text>
<text x="267.6" y="481.75" font-size="8.7" text-anchor="middle" fill="#404040" font-weight="normal">0.72</text>
<text x="312" y="481.75" font-size="8.7" text-anchor="middle" fill="#404040" font-weight="normal">0.88</text>
<text x="356.4" y="481.75" font-size="8.7" text-anchor="middle" fill="#404040" font-weight="normal">1.03</text>
<text x="400.8" y="481.75" font-size="8.7" text-anchor="middle" fill="#404040" font-weight="normal">1.19</text>
<text x="445.2" y="481.75" font-size="8.7" text-anchor="middle" fill="#404040" font-weight="normal">1.34</text>
<text x="489.6" y="481.75" font-size="8.7" text-anchor="middle" fill="#404040" font-weight="normal">1.5</text>
<text x="289.75" y="494.09" font-size="9.7" text-anchor="middle" fill="#404040">State price elasticity (<tspan font-style="italic">&#949;</tspan><tspan font-size="7.57" dy="2.13" font-style="italic">s</tspan><tspan dy="-2.13">)</tspan></text>
<text x="40.39" y="401.2" font-size="9.7" text-anchor="middle" fill="#404040" font-weight="normal" transform="rotate(-90 40.39 401.2)">Annual state growth (GiB)</text>
<text x="289.75" y="331.4" font-size="12" text-anchor="middle" fill="#404040" font-weight="normal">Annual state growth by state price elasticity and scenario</text>
<rect x="71.7" y="339" width="59.3" height="52" rx="1.5" fill="#fff" fill-opacity="0.85" stroke="#d0d0d0" stroke-width="0.8"/><text x="101.4" y="350.29" font-size="9.4" text-anchor="middle" fill="#404040" font-weight="normal">scenario</text><rect x="76" y="356.15" width="18" height="6.7" fill="#66b097" stroke="#5a5a5a" stroke-width="0.9"/><text x="100.3" y="362.55" font-size="8.7" text-anchor="start" fill="#404040" font-weight="normal">Base</text><rect x="76" y="368.35" width="18" height="6.7" fill="#e88f68" stroke="#5a5a5a" stroke-width="0.9"/><text x="100.3" y="374.75" font-size="8.7" text-anchor="start" fill="#404040" font-weight="normal">Double</text><rect x="76" y="380.15" width="18" height="6.7" fill="#8c99c4" stroke="#5a5a5a" stroke-width="0.9"/><text x="100.3" y="386.55" font-size="8.7" text-anchor="start" fill="#404040" font-weight="normal">Triple</text>
</g>
<g>
<path d="M571.7 461.2H1015.5" stroke="#e2e2e2" stroke-width="0.8"/><path d="M571.7 427.48H1015.5" stroke="#e2e2e2" stroke-width="0.8"/><path d="M571.7 393.76H1015.5" stroke="#e2e2e2" stroke-width="0.8"/><path d="M571.7 360.04H1015.5" stroke="#e2e2e2" stroke-width="0.8"/>
<path d="M582.8 367.29V382.97M582.8 435.57V461.2M579.95 367.29H585.65M579.95 461.2H585.65" stroke="#787878" stroke-width="1.05" fill="none"/><rect x="577.1" y="382.97" width="11.4" height="52.6" fill="#66b097" stroke="#5a5a5a" stroke-width="0.9"/><path d="M577.1 404.55H588.5" stroke="#5a5a5a" stroke-width="0.9"/>
<path d="M594.7 355.49V369.48M594.7 422.93V459.85M591.85 355.49H597.55M591.85 459.85H597.55" stroke="#787878" stroke-width="1.05" fill="none"/><rect x="589" y="369.48" width="11.4" height="53.45" fill="#e88f68" stroke="#5a5a5a" stroke-width="0.9"/><path d="M589 390.22H600.4" stroke="#5a5a5a" stroke-width="0.9"/>
<path d="M606.6 341.66V351.95M606.6 401.35V451.25M603.75 341.66H609.45M603.75 451.25H609.45" stroke="#787878" stroke-width="1.05" fill="none"/><rect x="600.9" y="351.95" width="11.4" height="49.4" fill="#8c99c4" stroke="#5a5a5a" stroke-width="0.9"/><path d="M600.9 369.99H612.3" stroke="#5a5a5a" stroke-width="0.9"/>
<path d="M627.1 366.28V381.12M627.1 432.03V459.01M624.25 366.28H629.95M624.25 459.01H629.95" stroke="#787878" stroke-width="1.05" fill="none"/><rect x="621.4" y="381.12" width="11.4" height="50.92" fill="#66b097" stroke="#5a5a5a" stroke-width="0.9"/><path d="M621.4 402.36H632.8" stroke="#5a5a5a" stroke-width="0.9"/>
<path d="M639 356.84V369.99M639 418.54V452.26M636.15 356.84H641.85M636.15 452.26H641.85" stroke="#787878" stroke-width="1.05" fill="none"/><rect x="633.3" y="369.99" width="11.4" height="48.56" fill="#e88f68" stroke="#5a5a5a" stroke-width="0.9"/><path d="M633.3 389.21H644.7" stroke="#5a5a5a" stroke-width="0.9"/>
<path d="M650.9 346.55V358.19M650.9 401.85V439.11M648.05 346.55H653.75M648.05 439.11H653.75" stroke="#787878" stroke-width="1.05" fill="none"/><rect x="645.2" y="358.19" width="11.4" height="43.67" fill="#8c99c4" stroke="#5a5a5a" stroke-width="0.9"/><path d="M645.2 374.88H656.6" stroke="#5a5a5a" stroke-width="0.9"/>
<path d="M671.4 365.44V379.43M671.4 426.97V453.44M668.55 365.44H674.25M668.55 453.44H674.25" stroke="#787878" stroke-width="1.05" fill="none"/><rect x="665.7" y="379.43" width="11.4" height="47.55" fill="#66b097" stroke="#5a5a5a" stroke-width="0.9"/><path d="M665.7 399.16H677.1" stroke="#5a5a5a" stroke-width="0.9"/>
<path d="M683.3 357.85V370.83M683.3 413.99V443.16M680.45 357.85H686.15M680.45 443.16H686.15" stroke="#787878" stroke-width="1.05" fill="none"/><rect x="677.6" y="370.83" width="11.4" height="43.16" fill="#e88f68" stroke="#5a5a5a" stroke-width="0.9"/><path d="M677.6 388.36H689" stroke="#5a5a5a" stroke-width="0.9"/>
<path d="M695.2 350.6V362.23M695.2 402.36V431.53M692.35 350.6H698.05M692.35 431.53H698.05" stroke="#787878" stroke-width="1.05" fill="none"/><rect x="689.5" y="362.23" width="11.4" height="40.13" fill="#8c99c4" stroke="#5a5a5a" stroke-width="0.9"/><path d="M689.5 378.42H700.9" stroke="#5a5a5a" stroke-width="0.9"/>
<path d="M715.7 364.09V377.57M715.7 420.74V445.01M712.85 364.09H718.55M712.85 445.01H718.55" stroke="#787878" stroke-width="1.05" fill="none"/><rect x="710" y="377.57" width="11.4" height="43.16" fill="#66b097" stroke="#5a5a5a" stroke-width="0.9"/><path d="M710 395.61H721.4" stroke="#5a5a5a" stroke-width="0.9"/>
<path d="M727.6 358.19V370.83M727.6 410.79V434.73M724.75 358.19H730.45M724.75 434.73H730.45" stroke="#787878" stroke-width="1.05" fill="none"/><rect x="721.9" y="370.83" width="11.4" height="39.96" fill="#e88f68" stroke="#5a5a5a" stroke-width="0.9"/><path d="M721.9 387.52H733.3" stroke="#5a5a5a" stroke-width="0.9"/>
<path d="M739.5 353.8V365.44M739.5 402.7V426.97M736.65 353.8H742.35M736.65 426.97H742.35" stroke="#787878" stroke-width="1.05" fill="none"/><rect x="733.8" y="365.44" width="11.4" height="37.26" fill="#8c99c4" stroke="#5a5a5a" stroke-width="0.9"/><path d="M733.8 381.12H745.2" stroke="#5a5a5a" stroke-width="0.9"/>
<path d="M760 362.74V375.38M760 414.5V435.57M757.15 362.74H762.85M757.15 435.57H762.85" stroke="#787878" stroke-width="1.05" fill="none"/><rect x="754.3" y="375.38" width="11.4" height="39.12" fill="#66b097" stroke="#5a5a5a" stroke-width="0.9"/><path d="M754.3 392.41H765.7" stroke="#5a5a5a" stroke-width="0.9"/>
<path d="M771.9 359.2V371.34M771.9 407.25V427.99M769.05 359.2H774.75M769.05 427.99H774.75" stroke="#787878" stroke-width="1.05" fill="none"/><rect x="766.2" y="371.34" width="11.4" height="35.91" fill="#e88f68" stroke="#5a5a5a" stroke-width="0.9"/><path d="M766.2 387.02H777.6" stroke="#5a5a5a" stroke-width="0.9"/>
<path d="M783.8 356.5V367.63M783.8 403.2V422.93M780.95 356.5H786.65M780.95 422.93H786.65" stroke="#787878" stroke-width="1.05" fill="none"/><rect x="778.1" y="367.63" width="11.4" height="35.57" fill="#8c99c4" stroke="#5a5a5a" stroke-width="0.9"/><path d="M778.1 382.97H789.5" stroke="#5a5a5a" stroke-width="0.9"/>
<path d="M804.3 361.39V373.53M804.3 408.09V426.13M801.45 361.39H807.15M801.45 426.13H807.15" stroke="#787878" stroke-width="1.05" fill="none"/><rect x="798.6" y="373.53" width="11.4" height="34.56" fill="#66b097" stroke="#5a5a5a" stroke-width="0.9"/><path d="M798.6 388.87H810" stroke="#5a5a5a" stroke-width="0.9"/>
<path d="M816.2 359.53V371.34M816.2 405.06V422.93M813.35 359.53H819.05M813.35 422.93H819.05" stroke="#787878" stroke-width="1.05" fill="none"/><rect x="810.5" y="371.34" width="11.4" height="33.72" fill="#e88f68" stroke="#5a5a5a" stroke-width="0.9"/><path d="M810.5 386.51H821.9" stroke="#5a5a5a" stroke-width="0.9"/>
<path d="M828.1 358.69V369.99M828.1 403.2V420.74M825.25 358.69H830.95M825.25 420.74H830.95" stroke="#787878" stroke-width="1.05" fill="none"/><rect x="822.4" y="369.99" width="11.4" height="33.21" fill="#8c99c4" stroke="#5a5a5a" stroke-width="0.9"/><path d="M822.4 385.67H833.8" stroke="#5a5a5a" stroke-width="0.9"/>
<path d="M848.6 359.53V371.34M848.6 402.36V418.04M845.75 359.53H851.45M845.75 418.04H851.45" stroke="#787878" stroke-width="1.05" fill="none"/><rect x="842.9" y="371.34" width="11.4" height="31.02" fill="#66b097" stroke="#5a5a5a" stroke-width="0.9"/><path d="M842.9 385.67H854.3" stroke="#5a5a5a" stroke-width="0.9"/>
<path d="M860.5 360.04V371.67M860.5 403.2V418.54M857.65 360.04H863.35M857.65 418.54H863.35" stroke="#787878" stroke-width="1.05" fill="none"/><rect x="854.8" y="371.67" width="11.4" height="31.53" fill="#e88f68" stroke="#5a5a5a" stroke-width="0.9"/><path d="M854.8 386H866.2" stroke="#5a5a5a" stroke-width="0.9"/>
<path d="M872.4 360.04V372.18M872.4 403.71V418.88M869.55 360.04H875.25M869.55 418.88H875.25" stroke="#787878" stroke-width="1.05" fill="none"/><rect x="866.7" y="372.18" width="11.4" height="31.53" fill="#8c99c4" stroke="#5a5a5a" stroke-width="0.9"/><path d="M866.7 386.51H878.1" stroke="#5a5a5a" stroke-width="0.9"/>
<path d="M892.9 358.19V368.64M892.9 396.46V409.44M890.05 358.19H895.75M890.05 409.44H895.75" stroke="#787878" stroke-width="1.05" fill="none"/><rect x="887.2" y="368.64" width="11.4" height="27.82" fill="#66b097" stroke="#5a5a5a" stroke-width="0.9"/><path d="M887.2 381.62H898.6" stroke="#5a5a5a" stroke-width="0.9"/>
<path d="M904.8 360.55V371.67M904.8 401.01V414.5M901.95 360.55H907.65M901.95 414.5H907.65" stroke="#787878" stroke-width="1.05" fill="none"/><rect x="899.1" y="371.67" width="11.4" height="29.34" fill="#e88f68" stroke="#5a5a5a" stroke-width="0.9"/><path d="M899.1 385.67H910.5" stroke="#5a5a5a" stroke-width="0.9"/>
<path d="M916.7 361.89V373.53M916.7 403.71V417.53M913.85 361.89H919.55M913.85 417.53H919.55" stroke="#787878" stroke-width="1.05" fill="none"/><rect x="911" y="373.53" width="11.4" height="30.18" fill="#8c99c4" stroke="#5a5a5a" stroke-width="0.9"/><path d="M911 387.52H922.4" stroke="#5a5a5a" stroke-width="0.9"/>
<path d="M937.2 356.84V366.28M937.2 390.56V402.36M934.35 356.84H940.05M934.35 402.36H940.05" stroke="#787878" stroke-width="1.05" fill="none"/><rect x="931.5" y="366.28" width="11.4" height="24.28" fill="#66b097" stroke="#5a5a5a" stroke-width="0.9"/><path d="M931.5 378.08H942.9" stroke="#5a5a5a" stroke-width="0.9"/>
<path d="M949.1 360.88V372.18M949.1 400V411.29M946.25 360.88H951.95M946.25 411.29H951.95" stroke="#787878" stroke-width="1.05" fill="none"/><rect x="943.4" y="372.18" width="11.4" height="27.82" fill="#e88f68" stroke="#5a5a5a" stroke-width="0.9"/><path d="M943.4 385.67H954.8" stroke="#5a5a5a" stroke-width="0.9"/>
<path d="M961 363.24V374.88M961 403.71V418.04M958.15 363.24H963.85M958.15 418.04H963.85" stroke="#787878" stroke-width="1.05" fill="none"/><rect x="955.3" y="374.88" width="11.4" height="28.83" fill="#8c99c4" stroke="#5a5a5a" stroke-width="0.9"/><path d="M955.3 388.87H966.7" stroke="#5a5a5a" stroke-width="0.9"/>
<path d="M981.5 354.64V364.59M981.5 385.67V395.61M978.65 354.64H984.35M978.65 395.61H984.35" stroke="#787878" stroke-width="1.05" fill="none"/><rect x="975.8" y="364.59" width="11.4" height="21.07" fill="#66b097" stroke="#5a5a5a" stroke-width="0.9"/><path d="M975.8 374.37H987.2" stroke="#5a5a5a" stroke-width="0.9"/>
<path d="M993.4 361.39V372.18M993.4 397.81V408.6M990.55 361.39H996.25M990.55 408.6H996.25" stroke="#787878" stroke-width="1.05" fill="none"/><rect x="987.7" y="372.18" width="11.4" height="25.63" fill="#e88f68" stroke="#5a5a5a" stroke-width="0.9"/><path d="M987.7 384.32H999.1" stroke="#5a5a5a" stroke-width="0.9"/>
<path d="M1005.3 364.59V375.72M1005.3 403.71V416.69M1002.45 364.59H1008.15M1002.45 416.69H1008.15" stroke="#787878" stroke-width="1.05" fill="none"/><rect x="999.6" y="375.72" width="11.4" height="27.99" fill="#8c99c4" stroke="#5a5a5a" stroke-width="0.9"/><path d="M999.6 389.71H1011" stroke="#5a5a5a" stroke-width="0.9"/>
<rect x="571.7" y="335" width="443.8" height="132.4" fill="none" stroke="#d6d6d6" stroke-width="0.9"/>
<text x="564.4" y="464.75" font-size="8.7" text-anchor="end" fill="#404040" font-weight="normal">0.0</text>
<text x="564.4" y="431.03" font-size="8.7" text-anchor="end" fill="#404040" font-weight="normal">0.2</text>
<text x="564.4" y="397.31" font-size="8.7" text-anchor="end" fill="#404040" font-weight="normal">0.4</text>
<text x="564.4" y="363.58" font-size="8.7" text-anchor="end" fill="#404040" font-weight="normal">0.6</text>
<text x="594.7" y="481.75" font-size="8.7" text-anchor="middle" fill="#404040" font-weight="normal">0.1</text>
<text x="639" y="481.75" font-size="8.7" text-anchor="middle" fill="#404040" font-weight="normal">0.26</text>
<text x="683.3" y="481.75" font-size="8.7" text-anchor="middle" fill="#404040" font-weight="normal">0.41</text>
<text x="727.6" y="481.75" font-size="8.7" text-anchor="middle" fill="#404040" font-weight="normal">0.57</text>
<text x="771.9" y="481.75" font-size="8.7" text-anchor="middle" fill="#404040" font-weight="normal">0.72</text>
<text x="816.2" y="481.75" font-size="8.7" text-anchor="middle" fill="#404040" font-weight="normal">0.88</text>
<text x="860.5" y="481.75" font-size="8.7" text-anchor="middle" fill="#404040" font-weight="normal">1.03</text>
<text x="904.8" y="481.75" font-size="8.7" text-anchor="middle" fill="#404040" font-weight="normal">1.19</text>
<text x="949.1" y="481.75" font-size="8.7" text-anchor="middle" fill="#404040" font-weight="normal">1.34</text>
<text x="993.4" y="481.75" font-size="8.7" text-anchor="middle" fill="#404040" font-weight="normal">1.5</text>
<text x="793.6" y="494.09" font-size="9.7" text-anchor="middle" fill="#404040">State price elasticity (<tspan font-style="italic">&#949;</tspan><tspan font-size="7.57" dy="2.13" font-style="italic">s</tspan><tspan dy="-2.13">)</tspan></text>
<text x="546.6" y="401.2" font-size="9.7" text-anchor="middle" fill="#404040" font-weight="normal" transform="rotate(-90 546.6 401.2)">Base fee (gwei)</text>
<text x="793.6" y="331.4" font-size="12" text-anchor="middle" fill="#404040" font-weight="normal">Equilibrium base fee by state price elasticity and scenario</text>
<rect x="951.8" y="410.8" width="58.8" height="51.8" rx="1.5" fill="#fff" fill-opacity="0.85" stroke="#d0d0d0" stroke-width="0.8"/><text x="981.7" y="421.89" font-size="9.4" text-anchor="middle" fill="#404040" font-weight="normal">scenario</text><rect x="955.8" y="426.85" width="17.6" height="6.7" fill="#66b097" stroke="#5a5a5a" stroke-width="0.9"/><text x="980.4" y="433.25" font-size="8.7" text-anchor="start" fill="#404040" font-weight="normal">Base</text><rect x="955.8" y="439.55" width="17.6" height="6.7" fill="#e88f68" stroke="#5a5a5a" stroke-width="0.9"/><text x="980.4" y="445.94" font-size="8.7" text-anchor="start" fill="#404040" font-weight="normal">Double</text><rect x="955.8" y="451.95" width="17.6" height="6.7" fill="#8c99c4" stroke="#5a5a5a" stroke-width="0.9"/><text x="980.4" y="458.35" font-size="8.7" text-anchor="start" fill="#404040" font-weight="normal">Triple</text>
</g>
</svg>
<p class="src"><span style="left:27.15px;transform:scaleX(0.9240)">Source:</span> <span style="left:80.57px;transform:scaleX(0.9346)">misilva73</span> <span style="left:146.77px;transform:scaleX(0.8773)">on</span> <span style="left:165.71px;transform:scaleX(0.9868)">https://ethresear.ch/</span></p>
<div class="logo">
<svg width="184.4" height="45.3" viewBox="864.6 510.7 184.4 45.3">
<defs><mask id="cres"><rect x="860" y="500" width="60" height="60" fill="#fff"/><circle cx="887.9" cy="527.3" r="17.6" fill="#000"/></mask></defs><circle cx="888" cy="533" r="22" fill="#72b544" mask="url(#cres)"/><path d="M902.4 546.6L908.4 552.2" stroke="#72b544" stroke-width="3.8" stroke-linecap="round"/><circle cx="887.3" cy="527.75" r="6.6" fill="#262626"/><circle cx="891.8" cy="523.2" r="2.3" fill="#fff"/>
</svg>
<p class="cn">轻松科技</p>
<p class="url">YNQINGSONG.COM</p>
</div>
</div></body></html>
